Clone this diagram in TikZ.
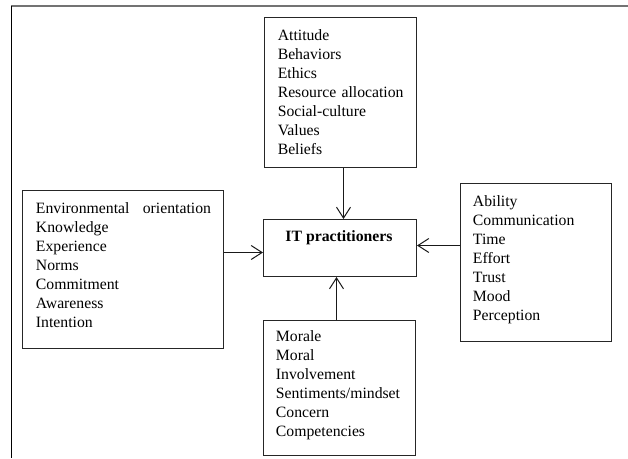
\documentclass[tikz,border=0pt]{standalone}
\usepackage{fontspec}
\setmainfont{Liberation Serif}
\usetikzlibrary{arrows.meta,fit}

\tikzset{
  panel/.style={draw=black!85, line width=0.75pt, inner sep=0pt, fill=white},
  listtext/.style={inner sep=0pt, anchor=base west, text width=150pt, align=left,
    font=\fontsize{11.8}{14.25}\selectfont},
  hubtext/.style={inner sep=0pt, anchor=base, font=\fontsize{11.8}{14.25}\selectfont\bfseries},
  arr/.style={draw=black!90, line width=0.75pt, -{Straight Barb[length=8.2pt, width=10.5pt, line width=0.75pt]}},
}

\begin{document}
\begin{tikzpicture}[x=0.75pt, y=-0.75pt]
  \useasboundingbox (0,0) rectangle (628,458);

  % partial outer frame
  \draw[draw=black!55, line width=1.4pt] (11,5.8) -- (628,5.8);
  \draw[draw=black, line width=1pt] (11.7,5.8) -- (11.7,458);

  % boxes
  \node[panel, fit={(264.5,17.5) (416.5,167.5)}] (top) {};
  \node[panel, fit={(263.5,219.5) (416.5,276.5)}] (hub) {};
  \node[panel, fit={(22.5,190.5) (223.5,348.5)}] (left) {};
  \node[panel, fit={(460.5,183.5) (611.5,341.5)}] (right) {};
  \node[panel, fit={(263.5,320.5) (415.5,455.5)}] (bottom) {};

  % texts
  \node[listtext] (topText) at (277.5,40) {Attitude\\Behaviors\\Ethics\\Resource allocation\\Social-culture\\Values\\Beliefs};
  \node[hubtext] (hubText) at (339,241.7) {IT practitioners};
  \node[listtext] (leftText) at (35.7,213.3) {Environmental\hspace{10pt}orientation\\Knowledge\\Experience\\Norms\\Commitment\\Awareness\\Intention};
  \node[listtext] (rightText) at (472.7,206.7) {Ability\\Communication\\Time\\Effort\\Trust\\Mood\\Perception};
  \node[listtext] (bottomText) at (275.7,341.7) {Morale\\Moral\\Involvement\\Sentiments/mindset\\Concern\\Competencies};

  % connector guide positions
  \coordinate (topX) at (343.5,0);
  \coordinate (bottomX) at (336.5,0);
  \coordinate (leftY) at (0,252.5);
  \coordinate (rightY) at (0,245.5);

  % connectors
  \draw[arr] (top.south -| topX) -- (hub.north -| topX);
  \draw[arr] (bottom.north -| bottomX) -- (hub.south -| bottomX);
  \draw[arr] (left.east |- leftY) -- (hub.west |- leftY);
  \draw[arr] (right.west |- rightY) -- (hub.east |- rightY);
\end{tikzpicture}
\end{document}
